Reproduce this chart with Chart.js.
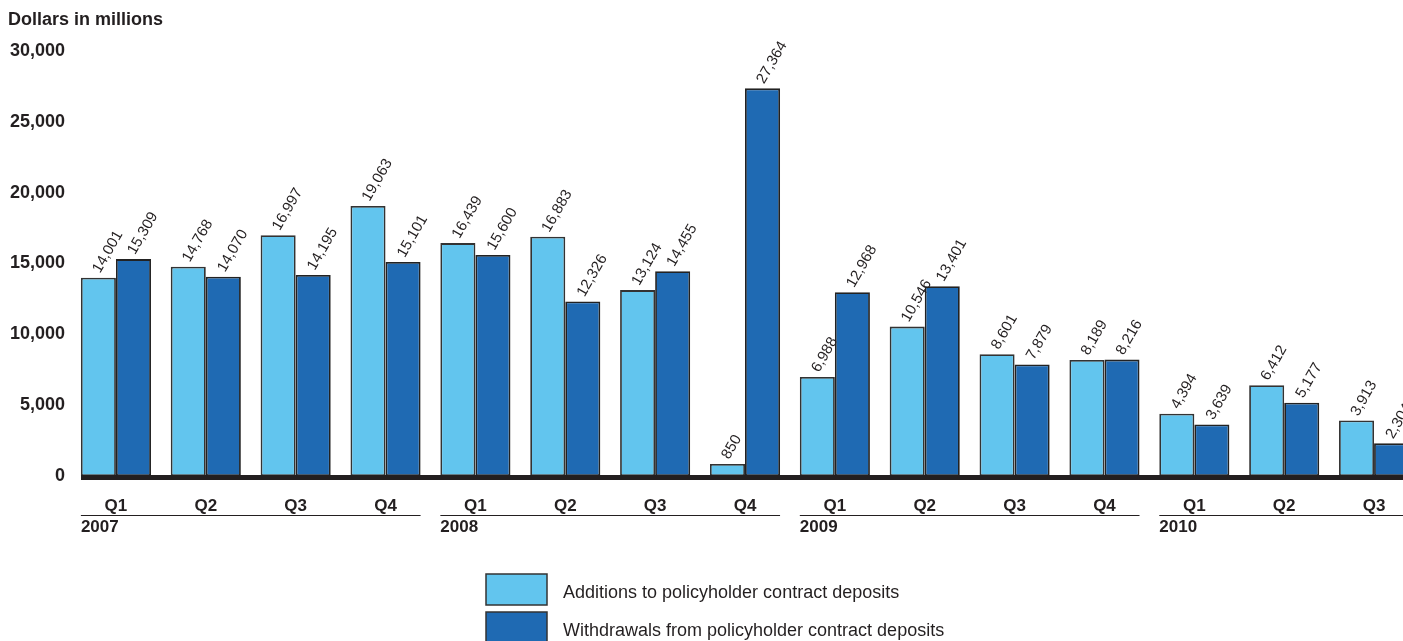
<!DOCTYPE html>
<html>
<head>
<meta charset="utf-8">
<script src="https://cdn.jsdelivr.net/npm/chart.js@4.4.1/dist/chart.umd.min.js"></script>
<style>
    html, body { margin: 0; padding: 0; background: #fff; overflow: hidden; }
    #wrap { width: 1419px; height: 641px; }
</style>
</head>
<body>
<div id="wrap"><canvas id="depositsChart" width="1419" height="641"></canvas></div>
<script>
// Chart data
const quarters = ['Q1', 'Q2', 'Q3', 'Q4', 'Q1', 'Q2', 'Q3', 'Q4', 'Q1', 'Q2', 'Q3', 'Q4', 'Q1', 'Q2', 'Q3'];
const years = ['2007', '2008', '2009', '2010'];
const yearStart = [0, 4, 8, 12];
const yearEnd = [3, 7, 11, 14];
const additions = [14001, 14768, 16997, 19063, 16439, 16883, 13124, 850, 6988, 10546, 8601, 8189, 4394, 6412, 3913];
const withdrawals = [15309, 14070, 14195, 15101, 15600, 12326, 14455, 27364, 12968, 13401, 7879, 8216, 3639, 5177, 2304];
const seriesNames = ['Additions to policyholder contract deposits', 'Withdrawals from policyholder contract deposits'];
const yTicks = [0, 5000, 10000, 15000, 20000, 25000, 30000];

const ink = '#231f20';
const lightBlue = '#62c5ee';
const darkBlue = '#1f6ab3';
const font = '"Liberation Sans", Arial, Helvetica, sans-serif';

const fmt = v => v.toLocaleString('en-US');

// Extra drawing: value labels, axis bar, year groups, title, legend
const decorations = {
    id: 'decorations',
    afterDatasetsDraw(chart) {
        const ctx = chart.ctx;
        const area = chart.chartArea;

        // value labels, rotated
        ctx.save();
        ctx.fillStyle = ink;
        ctx.font = '15px ' + font;
        ctx.textAlign = 'left';
        ctx.textBaseline = 'middle';
        chart.data.datasets.forEach((ds, i) => {
            chart.getDatasetMeta(i).data.forEach((bar, j) => {
                ctx.save();
                ctx.translate(bar.x - 2, bar.y - 6);
                ctx.rotate(-Math.PI / 3);
                ctx.fillText(fmt(ds.data[j]), 0, 0);
                ctx.restore();
            });
        });
        ctx.restore();

        // thick base line
        ctx.save();
        ctx.fillStyle = ink;
        ctx.fillRect(area.left + 10, area.bottom - 1, area.right - area.left, 5);
        ctx.restore();

        // year groups
        const meta0 = chart.getDatasetMeta(0).data;
        const meta1 = chart.getDatasetMeta(1).data;
        ctx.save();
        ctx.strokeStyle = ink;
        ctx.fillStyle = ink;
        ctx.lineWidth = 1.2;
        ctx.font = 'bold 17px ' + font;
        ctx.textAlign = 'left';
        ctx.textBaseline = 'middle';
        years.forEach((yr, k) => {
            const b0 = meta0[yearStart[k]];
            const b1 = meta1[yearEnd[k]];
            const x0 = b0.x - b0.width / 2;
            const x1 = b1.x + b1.width / 2;
            ctx.beginPath();
            ctx.moveTo(x0, 515.5);
            ctx.lineTo(x1, 515.5);
            ctx.stroke();
            ctx.fillText(yr, x0, 527);
        });
        ctx.restore();

        // title
        ctx.save();
        ctx.fillStyle = ink;
        ctx.font = 'bold 18px ' + font;
        ctx.textAlign = 'left';
        ctx.textBaseline = 'middle';
        ctx.fillText('Dollars in millions', 8, 20);
        ctx.restore();

        // legend
        ctx.save();
        const colors = [lightBlue, darkBlue];
        ctx.font = '18px ' + font;
        ctx.textAlign = 'left';
        ctx.textBaseline = 'middle';
        seriesNames.forEach((name, i) => {
            const top = 574 + i * 38;
            ctx.fillStyle = colors[i];
            ctx.fillRect(486, top, 61, 31);
            ctx.strokeStyle = '#333';
            ctx.lineWidth = 1.5;
            ctx.strokeRect(486, top, 61, 31);
            ctx.fillStyle = ink;
            ctx.fillText(name, 563, top + 19);
        });
        ctx.restore();
    }
};

const ctx = document.getElementById('depositsChart').getContext('2d');
new Chart(ctx, {
    type: 'bar',
    data: {
        labels: quarters,
        datasets: [{
            label: seriesNames[0],
            data: additions,
            backgroundColor: lightBlue,
            borderColor: '#333',
            borderWidth: 1.8,
            borderSkipped: false
        }, {
            label: seriesNames[1],
            data: withdrawals,
            backgroundColor: darkBlue,
            borderColor: '#222',
            borderWidth: 1.8,
            borderSkipped: false
        }]
    },
    options: {
        responsive: false,
        animation: false,
        layout: {
            padding: { top: 51, left: 0, right: 0, bottom: 0 }
        },
        datasets: {
            bar: {
                categoryPercentage: 0.78,
                barPercentage: 1
            }
        },
        plugins: {
            legend: { display: false },
            tooltip: { enabled: false }
        },
        scales: {
            x: {
                grid: { display: false, drawTicks: false },
                border: { display: false },
                ticks: {
                    color: ink,
                    padding: 20,
                    font: { family: font, size: 17, weight: 'bold' }
                },
                afterFit(scale) {
                    scale.height = 165;
                }
            },
            y: {
                min: 0,
                max: 30000,
                grid: { display: false, drawTicks: false },
                border: { display: false },
                afterBuildTicks(scale) {
                    scale.ticks = yTicks.map(v => ({ value: v }));
                },
                ticks: {
                    color: ink,
                    padding: 6,
                    font: { family: font, size: 18, weight: 'bold' },
                    callback: v => fmt(v)
                },
                afterFit(scale) {
                    scale.width = 71;
                }
            }
        }
    },
    plugins: [decorations]
});
</script>
</body>
</html>
